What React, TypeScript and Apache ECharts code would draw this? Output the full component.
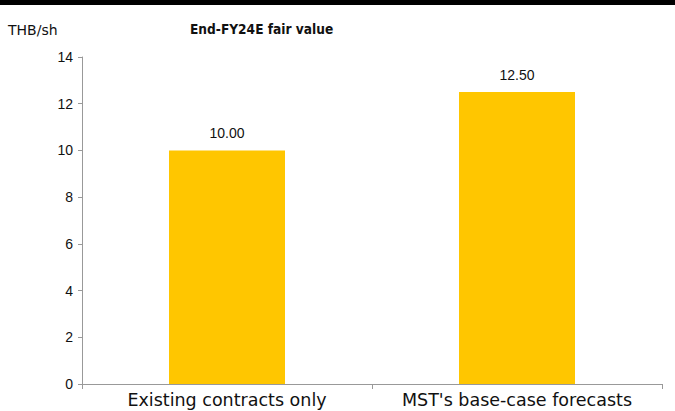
import React, { useEffect, useRef } from "react";
import * as echarts from "echarts";

const categories = ["Existing contracts only", "MST's base-case forecasts"];
const values = [10.0, 12.5];
const yTicks = [0, 2, 4, 6, 8, 10, 12, 14];
const titleText = "End-FY24E fair value";
const unitText = "THB/sh";

export default function App() {
  const ref = useRef<HTMLDivElement>(null);
  useEffect(() => {
    const chart = echarts.init(ref.current!, null, { renderer: "svg" });
    const font = "DejaVu Sans";
    const numFont = "Liberation Sans";
    chart.setOption({
      animation: false,
      backgroundColor: "#fff",
      textStyle: { fontFamily: font },
      graphic: [
        { type: "rect", shape: { x: 0, y: 0, width: 675, height: 5 }, style: { fill: "#000" } },
        {
          type: "text",
          x: 8,
          y: 30,
          style: { text: unitText, fontSize: 14, fontFamily: font, fill: "#111", verticalAlign: "middle" },
        },
        {
          type: "text",
          x: 190,
          y: 29,
          style: {
            text: titleText,
            fontSize: 13.6,
            fontWeight: "bold",
            fontFamily: "'DejaVu Sans Condensed', 'DejaVu Sans'",
            fill: "#111",
            verticalAlign: "middle",
          },
        },
      ],
      grid: { left: 82, right: 13, top: 57, bottom: 27, containLabel: false },
      xAxis: {
        type: "category",
        data: categories,
        axisLine: { lineStyle: { color: "#999", width: 1 } },
        axisTick: { show: true, interval: 0, length: 5, lineStyle: { color: "#999" } },
        axisLabel: { interval: 0, fontSize: 17.5, color: "#111", margin: 7, fontFamily: font },
      },
      yAxis: {
        type: "value",
        min: 0,
        max: 14,
        interval: 2,
        axisLine: { show: true, lineStyle: { color: "#999", width: 1 } },
        axisTick: { show: true, length: 4, lineStyle: { color: "#999" } },
        splitLine: { show: false },
        axisLabel: {
          fontSize: 14,
          color: "#111",
          margin: 9,
          fontFamily: numFont,
          formatter: (v: number) => (yTicks.includes(v) ? String(v) : ""),
        },
      },
      series: [
        {
          type: "bar",
          data: values,
          barWidth: "40%",
          itemStyle: { color: "#FFC600" },
          label: {
            show: true,
            position: "top",
            distance: 10,
            fontSize: 14,
            color: "#111",
            fontFamily: numFont,
            formatter: (p: any) => p.value.toFixed(2),
          },
        },
      ],
    });
    return () => chart.dispose();
  }, []);
  return <div ref={ref} style={{ width: 675, height: 411, position: "fixed", left: 0, top: 0 }} />;
}
